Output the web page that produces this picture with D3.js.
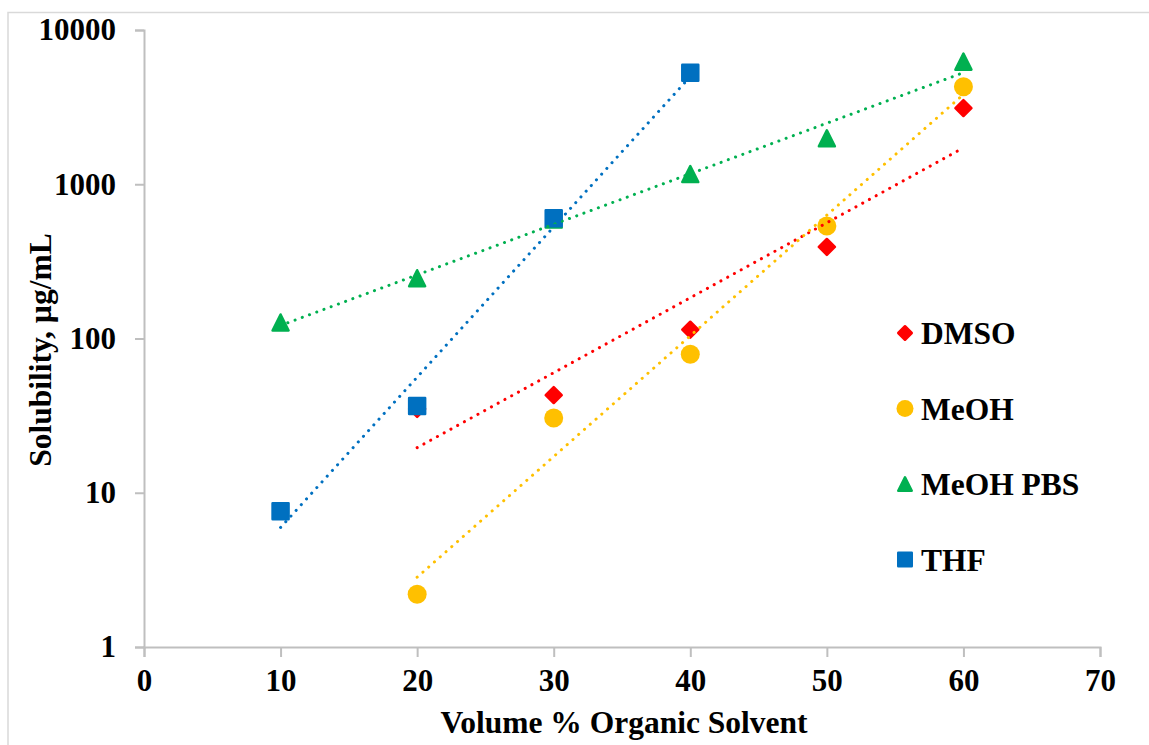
<!DOCTYPE html>
<html>
<head>
<meta charset="utf-8">
<script src="https://cdn.jsdelivr.net/npm/d3@7"></script>
<style>
  html, body { margin: 0; padding: 0; background: #ffffff; }
  svg { display: block; }
  text { font-family: "Liberation Serif", "Times New Roman", serif; font-weight: bold; fill: #000; }
</style>
</head>
<body>
<svg id="chart" width="1149" height="745"></svg>
<script>
// Solubility (µg/mL) against volume % of organic co-solvent
const xTicks = [0, 10, 20, 30, 40, 50, 60, 70];
const yTicks = [1, 10, 100, 1000, 10000];

const seriesNames = ["DMSO", "MeOH", "MeOH PBS", "THF"];
const seriesColors = ["#ff0000", "#ffc000", "#00b050", "#0070c0"];
const seriesShapes = ["diamond", "circle", "triangle", "square"];

const dmsoX = [20, 30, 40, 50, 60];
const dmsoY = [35, 43, 114, 392, 3120];

const meohX = [20, 30, 40, 50, 60];
const meohY = [2.2, 30.5, 79, 536, 4290];

const meohPbsX = [10, 20, 30, 40, 50, 60];
const meohPbsY = [127, 246, 590, 1165, 1986, 6234];

const thfX = [10, 20, 30, 40];
const thfY = [7.6, 36.5, 602, 5285];

const series = [
  { xs: dmsoX, ys: dmsoY },
  { xs: meohX, ys: meohY },
  { xs: meohPbsX, ys: meohPbsY },
  { xs: thfX, ys: thfY }
].map((s, i) => ({
  name: seriesNames[i], color: seriesColors[i], shape: seriesShapes[i],
  points: s.xs.map((x, j) => ({ x, y: s.ys[j] }))
}));

const svg = d3.select("#chart");
const W = 1149, H = 745;
const plot = { left: 144, right: 1100, top: 30, bottom: 647 };

// outer chart frame
svg.append("rect")
  .attr("x", 8).attr("y", 12.5)
  .attr("width", W + 20).attr("height", H + 20)
  .attr("fill", "none").attr("stroke", "#d9d9d9").attr("stroke-width", 1.5);

const x = d3.scaleLinear().domain([0, 70]).range([plot.left, plot.right]);
const y = d3.scaleLog().domain([1, 10000]).range([plot.bottom, plot.top]);

const axisColor = "#bfbfbf";

// x axis
const xAxis = svg.append("g")
  .attr("transform", `translate(0,${plot.bottom})`)
  .call(d3.axisBottom(x).tickValues(xTicks).tickFormat(d3.format("d")).tickSize(10).tickPadding(12));
xAxis.select(".domain").attr("stroke", axisColor).attr("stroke-width", 2);
xAxis.selectAll(".tick line").attr("stroke", axisColor).attr("stroke-width", 2);
xAxis.selectAll(".tick text")
  .attr("font-family", "Liberation Serif, serif").attr("font-weight", "bold")
  .attr("font-size", 31).attr("fill", "#000");

// y axis
const yAxis = svg.append("g")
  .attr("transform", `translate(${plot.left},0)`)
  .call(d3.axisLeft(y).tickValues(yTicks).tickFormat(d3.format("d")).tickSize(9).tickPadding(19));
yAxis.select(".domain").attr("stroke", axisColor).attr("stroke-width", 2);
yAxis.selectAll(".tick line").attr("stroke", axisColor).attr("stroke-width", 2);
yAxis.selectAll(".tick text")
  .attr("font-family", "Liberation Serif, serif").attr("font-weight", "bold")
  .attr("font-size", 31).attr("fill", "#000");

// axis titles
svg.append("text")
  .attr("x", 624).attr("y", 733)
  .attr("text-anchor", "middle").attr("font-size", 31.5)
  .text("Volume % Organic Solvent");

svg.append("text")
  .attr("transform", "translate(51,350) rotate(-90)")
  .attr("text-anchor", "middle").attr("font-size", 31.5)
  .text("Solubility, µg/mL");

// marker shapes, centred on the origin
function markerPath(shape, s) {
  const h = s / 2;
  if (shape === "diamond") {
    return `M0,${-h}L${h},0L0,${h}L${-h},0Z`;
  } else if (shape === "square") {
    return `M${-h},${-h}H${h}V${h}H${-h}Z`;
  } else if (shape === "triangle") {
    return `M0,${-h}L${h},${h}L${-h},${h}Z`;
  }
  return d3.arc()({ innerRadius: 0, outerRadius: h, startAngle: 0, endAngle: 2 * Math.PI });
}

function drawMarker(g, shape, color, s) {
  if (shape === "circle") {
    g.append("circle").attr("r", s / 2).attr("fill", color);
  } else {
    g.append("path").attr("d", markerPath(shape, s))
      .attr("fill", color).attr("stroke", color)
      .attr("stroke-width", 2.5).attr("stroke-linejoin", "round");
  }
}

// markers
const markerSize = { diamond: 16, circle: 19, triangle: 16, square: 16 };
series.forEach(s => {
  const g = svg.append("g");
  s.points.forEach(p => {
    const m = g.append("g").attr("transform", `translate(${x(p.x)},${y(p.y)})`);
    drawMarker(m, s.shape, s.color, markerSize[s.shape]);
  });
});

// exponential trendlines: least squares on log10(y)
function expFit(points) {
  const n = points.length;
  const lx = points.map(p => p.x);
  const ly = points.map(p => Math.log10(p.y));
  const mx = d3.mean(lx), my = d3.mean(ly);
  let sxy = 0, sxx = 0;
  for (let i = 0; i < n; i++) {
    sxy += (lx[i] - mx) * (ly[i] - my);
    sxx += (lx[i] - mx) ** 2;
  }
  const b = sxy / sxx, a = my - b * mx;
  return xv => Math.pow(10, a + b * xv);
}

series.forEach(s => {
  const f = expFit(s.points);
  const [x0, x1] = d3.extent(s.points, p => p.x);
  const samples = d3.range(0, 41).map(i => x0 + (x1 - x0) * i / 40);
  svg.append("path")
    .datum(samples)
    .attr("d", d3.line().x(v => x(v)).y(v => y(f(v))))
    .attr("fill", "none").attr("stroke", s.color)
    .attr("stroke-width", 3).attr("stroke-linecap", "round")
    .attr("stroke-dasharray", "0.1 7.6");
});

// legend
const legend = svg.append("g").attr("transform", "translate(905,333)");
series.forEach((s, i) => {
  const row = legend.append("g").attr("transform", `translate(0,${i * 75.5})`);
  const m = row.append("g");
  drawMarker(m, s.shape, s.color, s.shape === "circle" ? 17 : 13.5);
  row.append("text")
    .attr("x", 16).attr("y", 11)
    .attr("font-size", 31.5)
    .text(s.name);
});
</script>
</body>
</html>
